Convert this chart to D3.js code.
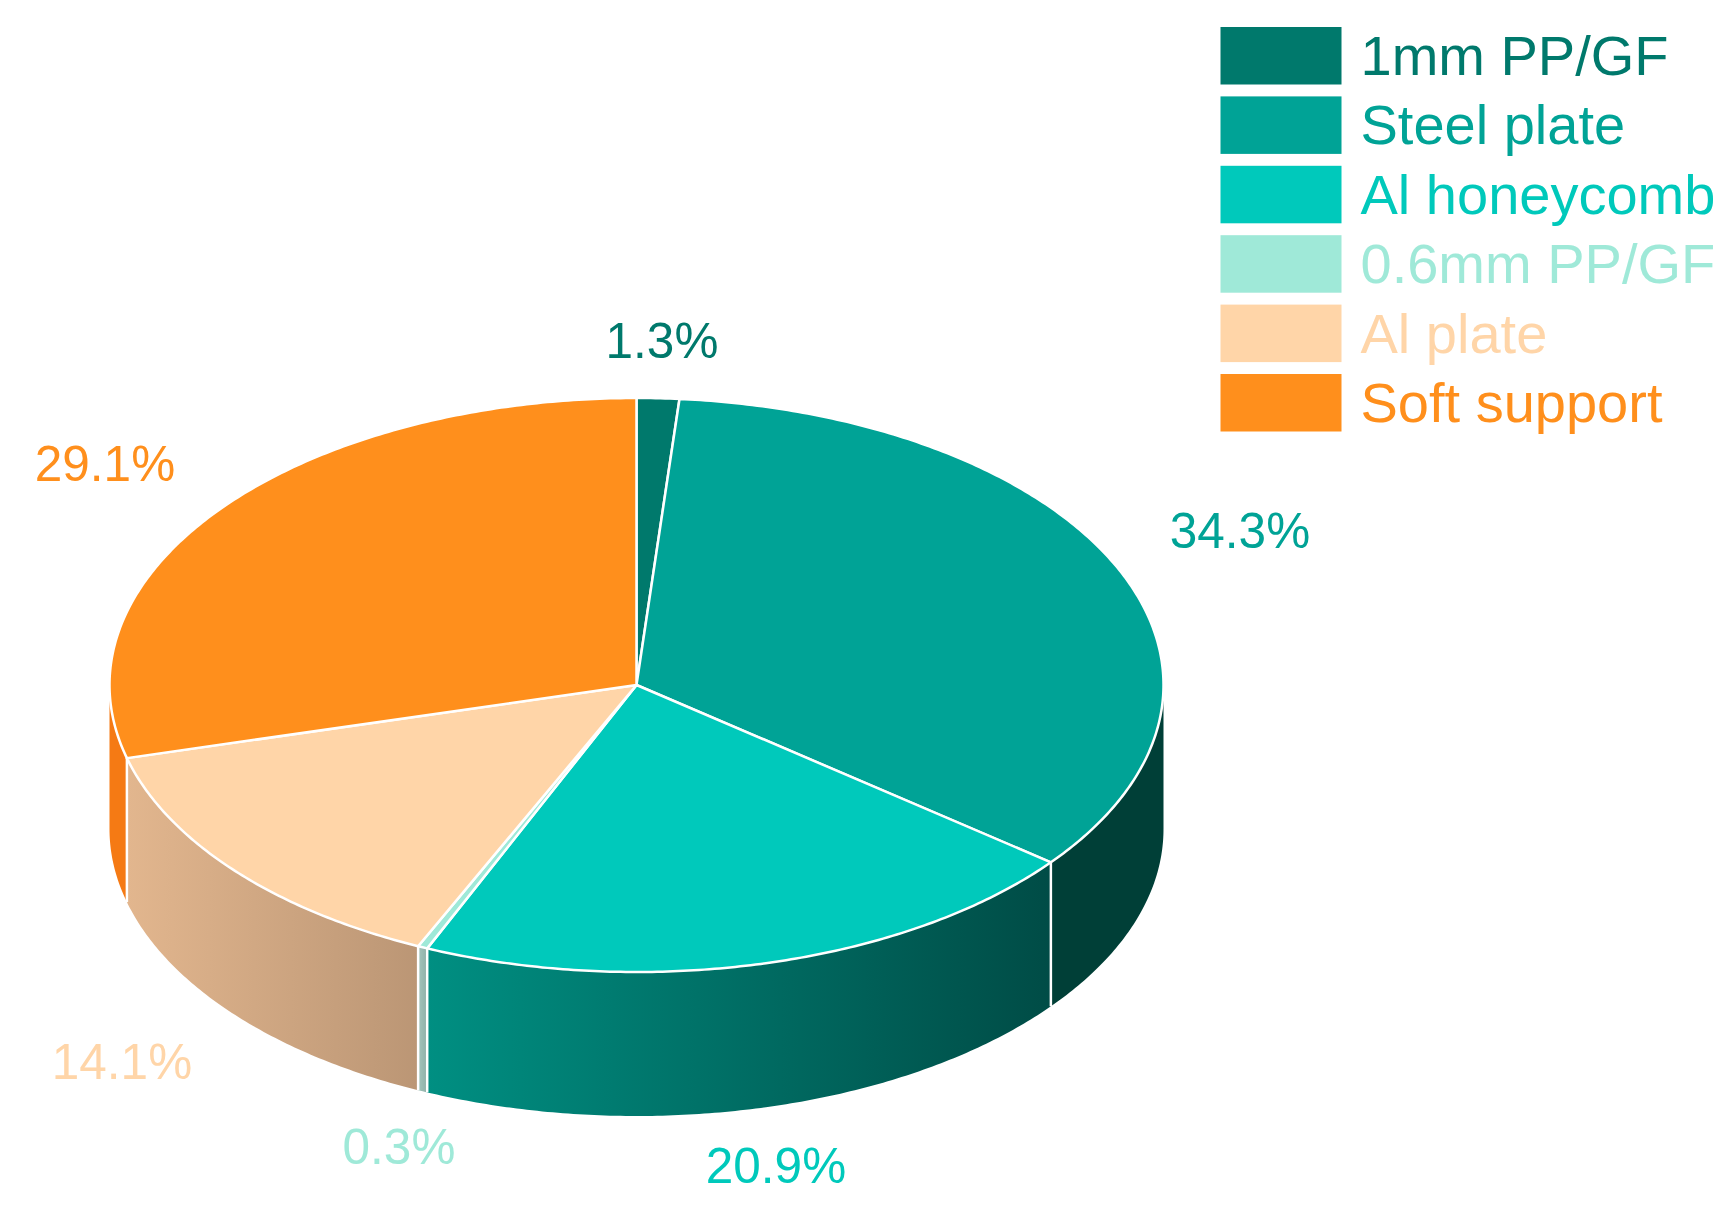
<!DOCTYPE html>
<html><head><meta charset="utf-8">
<script src="https://cdn.jsdelivr.net/npm/d3@7"></script>
<style>html,body{margin:0;background:#fff}svg{display:block}text{font-family:"Liberation Sans",Arial,sans-serif}</style>
</head><body><svg id="c" width="1729" height="1215"></svg>
<script>
const categories=["1mm PP/GF","Steel plate","Al honeycomb","0.6mm PP/GF","Al plate","Soft support"];
const shares=[1.3,34.3,20.9,0.3,14.1,29.1];
const colors=["#00796c","#00a396","#00c9bb","#9fe9d8","#ffd5a8","#ff8f1c"];
const wallLeft=["#00796c","#003f37","#008f82","#a3c4bb","#e2b68e","#f57a14"];
const wallRight=["#00796c","#003f37","#004c46","#8fb0a8","#bb9675","#f57a14"];
const labelX=[662,1240,776,399,122,105];
const labelY=[358,548,1183,1164,1079,481];

const W=1729,H=1215,cx=636.5,cy=685,rx=527,ry=287,depth=144;
const svg=d3.select("#c");
const defs=svg.append("defs");
const pie=d3.pie().sort(null).value(d=>d);
const arcs=pie(shares);
const xS=d3.scaleLinear().domain([-1,1]).range([cx-rx,cx+rx]);
const yS=d3.scaleLinear().domain([-1,1]).range([cy-ry,cy+ry]);
const px=t=>xS(Math.sin(t)), py=t=>yS(-Math.cos(t));
const samples=(a,b)=>{const n=Math.max(2,Math.ceil((b-a)/0.01));return d3.range(n+1).map(i=>a+(b-a)*i/n);};
const line=d3.line();

arcs.forEach((d,i)=>{
  const g=defs.append("linearGradient").attr("id","w"+i).attr("x1",0).attr("x2",1).attr("y1",0).attr("y2",0);
  g.append("stop").attr("offset",0).attr("stop-color",wallLeft[i]);
  g.append("stop").attr("offset",1).attr("stop-color",wallRight[i]);
});

// side walls (front half only)
const walls=svg.append("g");
arcs.forEach((d,i)=>{
  const a=Math.max(d.startAngle,Math.PI/2), b=Math.min(d.endAngle,3*Math.PI/2);
  if(b<=a) return;
  const ts=samples(a,b);
  const top=ts.map(t=>[px(t),py(t)]);
  const bottom=ts.slice().reverse().map(t=>[px(t),py(t)+depth]);
  walls.append("path").attr("d",line(top.concat(bottom))+"Z").attr("fill",`url(#w${i})`);
});
// white seams on the wall
arcs.forEach((d,i)=>{
  const t=d.endAngle;
  if(t<=Math.PI/2||t>=3*Math.PI/2) return;
  walls.append("line").attr("x1",px(t)).attr("x2",px(t)).attr("y1",py(t)).attr("y2",py(t)+depth)
    .attr("stroke","#fff").attr("stroke-width",2.5);
});
// top face
const topFace=svg.append("g");
arcs.forEach((d,i)=>{
  const pts=[[cx,cy]].concat(samples(d.startAngle,d.endAngle).map(t=>[px(t),py(t)]));
  topFace.append("path").attr("d",line(pts)+"Z").attr("fill",colors[i])
    .attr("stroke","#fff").attr("stroke-width",2.5).attr("stroke-linejoin","round");
});
// percentage labels
svg.append("g").selectAll("text").data(shares).join("text")
  .attr("x",(d,i)=>labelX[i]).attr("y",(d,i)=>labelY[i])
  .attr("text-anchor","middle").attr("font-size",49.5)
  .attr("fill",(d,i)=>colors[i]).text(d=>d.toFixed(1)+"%");
// legend
const ly=d3.scalePoint().domain(categories).range([27,374]);
const lg=svg.append("g").selectAll("g").data(categories).join("g")
  .attr("transform",d=>`translate(1220.5,${ly(d)})`);
lg.append("rect").attr("width",121).attr("height",57.5).attr("fill",(d,i)=>colors[i]);
lg.append("text").attr("x",140).attr("y",48).attr("font-size",56)
  .attr("fill",(d,i)=>colors[i]).text(d=>d);
</script></body></html>
